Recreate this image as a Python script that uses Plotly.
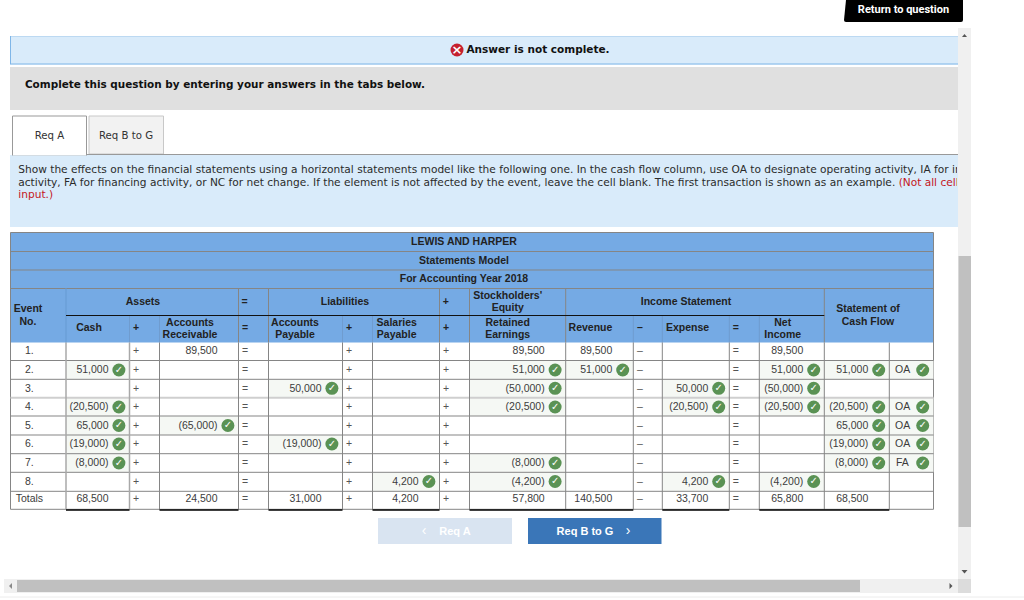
import plotly.graph_objects as go

# table values, rows 1-8 then totals
events = ['1.', '2.', '3.', '4.', '5.', '6.', '7.', '8.', 'Totals']
cash = ['', '51,000', '', '(20,500)', '65,000', '(19,000)', '(8,000)', '', '68,500']
receivable = ['89,500', '', '', '', '(65,000)', '', '', '', '24,500']
acc_payable = ['', '', '50,000', '', '', '(19,000)', '', '', '31,000']
sal_payable = ['', '', '', '', '', '', '', '4,200', '4,200']
retained = ['89,500', '51,000', '(50,000)', '(20,500)', '', '', '(8,000)', '(4,200)', '57,800']
revenue = ['89,500', '51,000', '', '', '', '', '', '', '140,500']
expense = ['', '', '50,000', '(20,500)', '', '', '', '4,200', '33,700']
net_income = ['89,500', '51,000', '(50,000)', '(20,500)', '', '', '', '(4,200)', '65,800']
cash_flow = ['', '51,000', '', '(20,500)', '65,000', '(19,000)', '(8,000)', '', '68,500']
activity = ['', 'OA', '', 'OA', 'OA', 'OA', 'FA', '', '']

# page geometry
col_x = [10.5, 66, 129.5, 159.5, 238.5, 268.5, 342.5, 372.5, 439.5, 469.5,
         565.7, 633.3, 662.3, 729.3, 759.3, 824.3, 889.3, 933.5]
row_y = [342.5, 360.5, 379.3, 397.7, 416, 435, 453.7, 472.3, 491.3, 509.3]
row_mid = [351, 370, 388.3, 407, 425.5, 444, 463, 481.5, 499]
value_cols = [(cash, 1), (receivable, 3), (acc_payable, 5), (sal_payable, 7), (retained, 9),
              (revenue, 10), (expense, 12), (net_income, 14), (cash_flow, 15)]
op_cols = [(2, '+'), (4, '='), (6, '+'), (8, '+'), (11, '–'), (13, '=')]

BODY = 'Liberation Sans'
UI = 'DejaVu Sans'
HEAD_BLUE = '#75aae4'
PANEL_BLUE = '#d9ebfa'
LINE = '#858585'
GREEN = '#5a9254'
TXT = '#3c3c3c'

shapes = []


def rect(x0, y0, x1, y1, fill, line=None, width=1):
    shapes.append(dict(type='rect', x0=x0, y0=y0, x1=x1, y1=y1, fillcolor=fill,
                       line=dict(color=line or fill, width=width if line else 0), layer='below'))


def seg(x0, y0, x1, y1, color=LINE, width=1):
    shapes.append(dict(type='line', x0=x0, y0=y0, x1=x1, y1=y1,
                       line=dict(color=color, width=width), layer='below'))


def tri(pts, color='#555555'):
    p = 'M' + ' L'.join('%s,%s' % q for q in pts) + ' Z'
    shapes.append(dict(type='path', path=p, fillcolor=color, line=dict(width=0), layer='below'))


# top of page
shapes.append(dict(type='path', path='M846,0 L963,0 L963,20 Q963,22 961,22 L846,22 Q844,22 844,20 Z',
                   fillcolor='#000000', line=dict(width=0), layer='below'))
rect(10, 36, 958, 64.5, PANEL_BLUE)
seg(10, 36.5, 958, 36.5, '#bcd9f2')
seg(10, 64, 958, 64, '#7fb6e8')
seg(10.5, 36, 10.5, 64, '#7fb6e8')
rect(10, 67, 958, 110, '#e0e0e0')
rect(10, 155, 958, 227, PANEL_BLUE)
rect(89, 116, 163.5, 154, '#f2f2f2', '#c8c8c8')
seg(87, 154.5, 958, 154.5, '#999999')
rect(12.5, 116, 86.5, 156, '#ffffff', '#999999')
rect(13, 154, 86, 155, '#ffffff')
rect(12, 155.5, 87.5, 158, PANEL_BLUE)
shapes.append(dict(type='circle', x0=450.5, y0=43.5, x1=463.5, y1=56.5, fillcolor='#c5202e',
                   line=dict(width=0), layer='below'))

# table header
rect(10.5, 232.5, 933.5, 342.5, HEAD_BLUE)
for y in (232.5, 251.5, 270, 288.5):
    seg(10.5, y, 933.5, y, LINE, 1)
seg(10.5, 232.5, 10.5, 509.3)
seg(933.5, 232.5, 933.5, 509.3)
seg(66, 288.5, 66, 342.5, '#6b9fd8', 1.5)
for i in (4, 5, 8, 9, 10, 15):
    seg(col_x[i], 288.5, col_x[i], 342.5)
for i in (2, 3, 6, 7, 11, 12, 13, 14):
    seg(col_x[i], 315.5, col_x[i], 342.5, '#6f9ccf')
seg(66, 315.5, 824.3, 315.5, '#111111', 1)

# table body
for data, c in value_cols:
    for r in range(1, 8):
        if data[r]:
            rect(col_x[c], row_y[r], col_x[c + 1], row_y[r + 1], '#f5f8f4')
for r in range(1, 8):
    if activity[r]:
        rect(col_x[16], row_y[r], col_x[17], row_y[r + 1], '#f5f8f4')
for i, y in enumerate(row_y):
    if i == 3:
        seg(10.5, y, 933.5, y, '#cfcfcf', 2)
    elif i > 0 and i < 9:
        seg(10.5, y, 933.5, y, LINE, 1)
seg(10.5, 509.3, 933.5, 509.3, LINE, 1)
for i in range(1, 17):
    w = 1.5 if i in (1, 2) else 1
    seg(col_x[i], 342.5, col_x[i], 509.3, '#a8a8a8' if w > 1 else LINE, w)
for i0, i1 in ((1, 2), (3, 4), (5, 6), (7, 8), (9, 11), (12, 13), (14, 16)):
    seg(col_x[i0], 510, col_x[i1], 510, '#000000', 1.5)

# buttons and scrollbars
rect(378, 518, 512, 544, '#d9e4f1')
rect(528, 518, 661.5, 544, '#3a76b8')
rect(958, 28, 971, 579, '#f0f0f0')
rect(958.5, 256, 971, 527, '#c0c0c0')
rect(4, 579, 958, 593, '#f0f0f0')
rect(17, 580, 860, 592, '#c0c0c0')
rect(958, 579, 971, 593, '#dcdcdc')
seg(0, 597, 1024, 597, '#ececec')
tri([(962, 37), (967, 37), (964.5, 34)])
tri([(961.5, 570), (967.5, 570), (964.5, 573.5)])
tri([(12, 583), (9, 586), (12, 589)], '#8a8a8a')
tri([(949.5, 583), (952.5, 586), (949.5, 589)])


def txt(x, y, text, size=10.5, color='#222222', family=BODY, weight=None, anchor='center'):
    pos = {'center': 'middle center', 'left': 'middle right', 'right': 'middle left'}[anchor]
    xs = x if isinstance(x, list) else [x]
    ys = y if isinstance(y, list) else [y]
    return go.Scatter(x=xs, y=[v + 0.8 for v in ys],
                      text=text if isinstance(text, list) else [text], mode='text', textposition=pos,
                      textfont=dict(family=family, size=size, color=color, weight=weight or 'normal'),
                      hoverinfo='skip', showlegend=False)


fig = go.Figure()

# cells
check_x, check_y = [], []
for data, c in value_cols:
    right = col_x[c + 1]
    xs = [right - 21 for r in range(9) if data[r]]
    ys = [row_mid[r] for r in range(9) if data[r]]
    fig.add_trace(txt(xs, ys, [v for v in data if v], color=TXT, anchor='right'))
    for r in range(1, 8):
        if data[r]:
            check_x.append(right - 10.6)
            check_y.append(row_mid[r])
for r in range(1, 8):
    if activity[r]:
        check_x.append(922.7)
        check_y.append(row_mid[r])
fig.add_trace(txt([895] * 4 + [896], [row_mid[r] for r in (1, 3, 4, 5, 6)],
                  [activity[r] for r in (1, 3, 4, 5, 6)], color=TXT, anchor='left'))
fig.add_trace(txt([25] * 8, row_mid[:8], events[:8], color=TXT, anchor='left'))
fig.add_trace(txt(15.7, row_mid[8], events[8], color=TXT, anchor='left'))
for c, op in op_cols:
    fig.add_trace(txt([col_x[c] + 6.5] * 9, row_mid, [op] * 9, color='#555555'))
    fig.add_trace(txt(col_x[c] + 6.5, 328, op, weight='bold'))
fig.add_trace(go.Scatter(x=check_x, y=check_y, mode='markers',
                         marker=dict(size=13, color=GREEN, line=dict(width=0)),
                         hoverinfo='skip', showlegend=False))
fig.add_trace(txt(check_x, [v - 0.8 for v in check_y], ['✓'] * len(check_x), size=10, color='#ffffff',
                  family='DejaVu Sans', weight='bold'))

# header labels
heads = [(464, 242, ['LEWIS AND HARPER']), (464, 260.5, ['Statements Model']),
         (464, 279, ['For Accounting Year 2018']), (143, 301.5, ['Assets']), (345, 301.5, ['Liabilities']),
         (686, 301.5, ['Income Statement']), (507.7, 301.5, ["Stockholders'", 'Equity']),
         (28, 315, ['Event', 'No.']), (868, 315, ['Statement of', 'Cash Flow']), (89, 328, ['Cash']),
         (190, 328.5, ['Accounts', 'Receivable']), (295, 328.5, ['Accounts', 'Payable']),
         (396.7, 328.5, ['Salaries', 'Payable']), (507.7, 328.5, ['Retained', 'Earnings']),
         (590.5, 328, ['Revenue']), (687.5, 328, ['Expense']), (782.7, 328.5, ['Net', 'Income']),
         (244.5, 301.5, ['=']), (445.8, 301.5, ['+'])]
for hx, hy, label in heads:
    for k, part in enumerate(label):
        fig.add_trace(txt(hx, hy + (k - (len(label) - 1) / 2) * 12.6, part, weight='bold'))

# page text
fig.add_trace(txt(538, 50, 'Answer is not complete.', size=10.5, color='#111111', family=UI, weight='bold'))
fig.add_trace(txt(225, 85, 'Complete this question by entering your answers in the tabs below.', size=10.45,
                  color='#111111', family=UI, weight='bold'))
fig.add_trace(txt(903.5, 9, 'Return to question', size=11, color='#ffffff', family='Roboto', weight='bold'))
fig.add_trace(txt(457, 50, '×', size=13, color='#ffffff', family=UI, weight='bold'))
fig.add_trace(txt(49.5, 135.5, 'Req A', size=10.2, color='#333333', family=UI))
fig.add_trace(txt(126, 135.5, 'Req B to G', size=10.2, color='#333333', family=UI))
fig.add_trace(txt(455, 531, 'Req A', size=11, color='#ffffff', weight='bold'))
fig.add_trace(txt(424, 531, '‹', size=14, color='#ffffff'))
fig.add_trace(txt(585, 531, 'Req B to G', size=11, color='#ffffff', weight='bold'))
fig.add_trace(txt(628, 531, '›', size=14, color='#ffffff'))

# instructions run under the scrollbar, so they go on a clipped axis pair
instr = [(170, 'Show the effects on the financial statements using a horizontal statements model like the '
               'following one. In the cash flow column, use OA to designate operating activity, IA for investing'),
         (182.5, 'activity, FA for financing activity, or NC for net change. If the element is not affected by '
                 'the event, leave the cell blank. The first transaction is shown as an example. '
                 '<span style="color:#c4161c">(Not all cells require</span>'),
         (195, '<span style="color:#c4161c">input.)</span>')]
for iy, line_text in instr:
    t = txt(18.3, iy, line_text, size=10.6, color='#2b2b2b', family=UI, anchor='left')
    t.update(xaxis='x2', yaxis='y2', cliponaxis=True)
    fig.add_trace(t)

fig.update_layout(
    width=1024, height=600,
    margin=dict(l=0, r=0, t=0, b=0),
    paper_bgcolor='#ffffff', plot_bgcolor='rgba(0,0,0,0)',
    showlegend=False,
    xaxis=dict(range=[0, 1024], visible=False, fixedrange=True),
    yaxis=dict(range=[600, 0], visible=False, fixedrange=True),
    xaxis2=dict(range=[0, 957], domain=[0, 957 / 1024], visible=False, anchor='y2', fixedrange=True),
    yaxis2=dict(range=[600, 0], visible=False, anchor='x2', fixedrange=True),
    shapes=shapes,
)
fig.write_html('out.html', config=dict(displayModeBar=False),
               post_script="document.body.style.margin='0';")
